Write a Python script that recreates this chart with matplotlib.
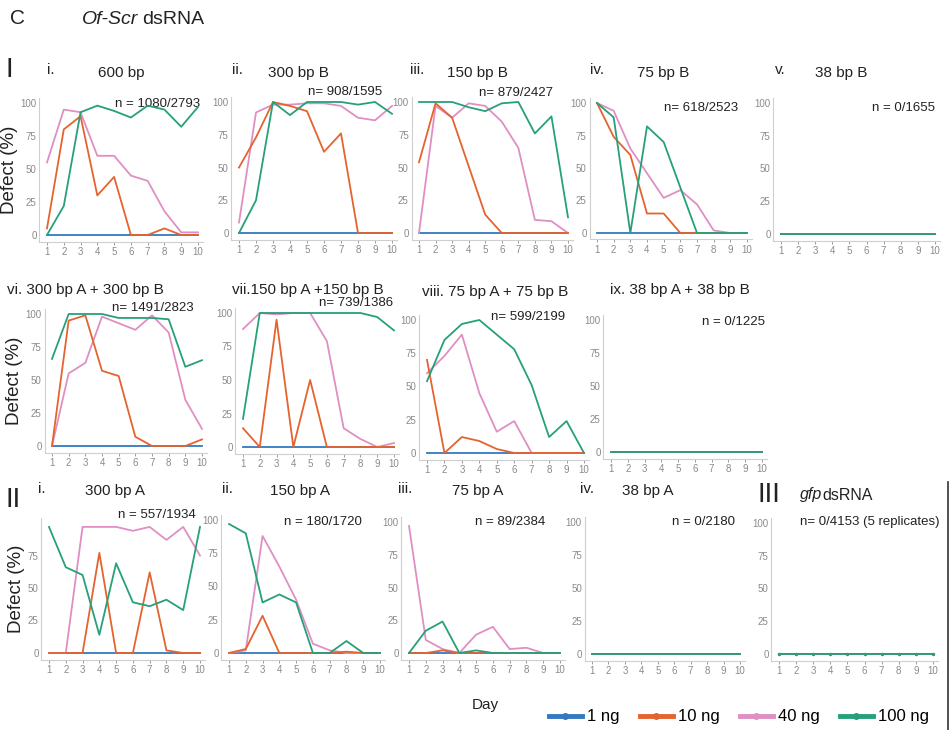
import matplotlib.pyplot as plt
from matplotlib.lines import Line2D

plt.rcParams['font.family'] = ['Liberation Sans', 'DejaVu Sans']

# ---- data (defect % per day) ----
days = [1, 2, 3, 4, 5, 6, 7, 8, 9, 10]
doses = ['1 ng', '10 ng', '40 ng', '100 ng']
colors = ['#3378c0', '#e5632e', '#e08fc3', '#26a07a']
zero = [0, 0, 0, 0, 0, 0, 0, 0, 0, 0]

# I. Of-Scr dsRNA, fragment B series
bp600_10 = [5, 80, 90, 30, 44, 0, 0, 5, 0, 0]
bp600_40 = [55, 95, 93, 60, 60, 45, 41, 18, 2, 2]
bp600_100 = [0, 22, 93, 98, 94, 89, 98, 95, 82, 97]

bp300b_10 = [50, 73, 100, 97, 93, 62, 76, 0, 0, 0]
bp300b_40 = [8, 92, 98, 98, 99, 99, 97, 88, 86, 97]
bp300b_100 = [0, 25, 100, 90, 100, 100, 100, 98, 100, 91]

bp150b_10 = [54, 99, 88, 51, 14, 0, 0, 0, 0, 0]
bp150b_40 = [0, 97, 88, 99, 97, 85, 65, 10, 9, 0]
bp150b_100 = [100, 100, 100, 96, 93, 99, 100, 76, 89, 12]

bp75b_10 = [100, 74, 60, 15, 15, 0, 0, 0, 0, 0]
bp75b_40 = [100, 94, 65, 46, 27, 33, 22, 2, 0, 0]
bp75b_100 = [100, 89, 0, 82, 70, 35, 0, 0, 0, 0]

# A + B combinations
ab300_10 = [0, 95, 99, 57, 53, 7, 0, 0, 0, 5]
ab300_40 = [0, 55, 63, 98, 93, 88, 99, 86, 35, 13]
ab300_100 = [66, 100, 100, 100, 97, 97, 97, 96, 60, 65]

ab150_10 = [14, 0, 95, 0, 50, 0, 0, 0, 0, 0]
ab150_40 = [88, 100, 99, 100, 100, 79, 14, 6, 0, 3]
ab150_100 = [21, 100, 100, 100, 100, 100, 100, 100, 97, 87]

ab75_10 = [70, 0, 12, 9, 3, 0, 0, 0, 0, 0]
ab75_40 = [60, 73, 89, 45, 16, 24, 0, 0, 0, 0]
ab75_100 = [54, 85, 97, 100, 89, 78, 51, 12, 24, 0]

# II. fragment A series
bp300a_10 = [0, 0, 0, 77, 0, 0, 62, 2, 0, 0]
bp300a_40 = [0, 0, 97, 97, 97, 94, 97, 87, 97, 75]
bp300a_100 = [97, 66, 60, 14, 69, 39, 36, 41, 33, 97]

bp150a_10 = [0, 3, 28, 0, 0, 0, 0, 1, 0, 0]
bp150a_40 = [0, 2, 88, 65, 40, 7, 2, 0, 0, 0]
bp150a_100 = [97, 90, 38, 44, 38, 0, 0, 9, 0, 0]

bp75a_10 = [0, 0, 2, 0, 0, 0, 0, 0, 0, 0]
bp75a_40 = [97, 10, 3, 0, 14, 20, 3, 4, 0, 0]
bp75a_100 = [0, 17, 24, 0, 2, 0, 0, 0, 0, 0]

W, H = 951, 730
fig = plt.figure(figsize=(W / 100, H / 100), dpi=100)


def px_rect(d1, d10, y100, y0):
    """axes rect from pixel position of day 1, day 10, y=100 and y=0"""
    s = (d10 - d1) / 9.0
    h = (y0 - y100) / 100.0
    left = d1 - 0.45 * s
    right = d10 + 0.3 * s
    top = y100 - 4 * h
    bottom = y0 + 5 * h
    return [left / W, 1 - bottom / H, (right - left) / W, (bottom - top) / H]


def ftext(x, y, s, **kw):
    kw.setdefault('va', 'center')
    fig.text(x / W, 1 - y / H, s, **kw)


def panel(pos, series, nlabel, npos, ylabel=False, yticks=(0, 25, 50, 75, 100), marks=False):
    ax = fig.add_axes(px_rect(*pos))
    order = [0, 2, 1, 3]  # blue under pink under orange under green
    for z, k in enumerate(order):
        ax.plot(days, series[k], color=colors[k], lw=1.3, zorder=2 + z,
                marker='.' if (marks and k == 3) else None, ms=3)
    ax.set_xlim(0.55, 10.3)
    ax.set_ylim(-5, 104)
    ax.set_xticks(days)
    ax.set_yticks(list(yticks))
    for side in ['top', 'right']:
        ax.spines[side].set_visible(False)
    for side in ['left', 'bottom']:
        ax.spines[side].set_color('#cfcfcf')
        ax.spines[side].set_linewidth(0.8)
    ax.tick_params(labelsize=7, colors='#8a8a8a', length=2, width=0.6, pad=2)
    ax.tick_params(axis='y', length=0)
    if ylabel:
        ax.set_ylabel('Defect (%)', fontsize=13.5, color='#222222', labelpad=2)
    ax.text(npos[0] / W, 1 - npos[1] / H, nlabel, transform=fig.transFigure,
            ha='right', va='center', fontsize=9.5, color='#222222')
    return ax


# row I
panel((47, 198, 103, 235), [zero, bp600_10, bp600_40, bp600_100], 'n = 1080/2793', (200, 104), ylabel=True)
panel((239, 392, 102, 233), [zero, bp300b_10, bp300b_40, bp300b_100], 'n= 908/1595', (382, 92))
panel((419, 568, 102, 233), [zero, bp150b_10, bp150b_40, bp150b_100], 'n= 879/2427', (553, 93))
panel((597, 747, 103, 233), [zero, bp75b_10, bp75b_40, bp75b_100], 'n= 618/2523', (738, 108))
panel((781, 935, 103, 234), [zero, zero, zero, zero], 'n = 0/1655', (935, 108))

# row I, combinations
panel((52, 202, 314, 446), [zero, ab300_10, ab300_40, ab300_100], 'n= 1491/2823', (194, 308), ylabel=True)
panel((243, 394, 313, 447), [zero, ab150_10, ab150_40, ab150_100], 'n= 739/1386', (393, 303))
panel((427, 584, 320, 453), [zero, ab75_10, ab75_40, ab75_100], 'n= 599/2199', (565, 317))
panel((611, 762, 320, 452), [zero, zero, zero, zero], 'n = 0/1225', (765, 322))

# row II and III
panel((49, 200, 523, 653), [zero, bp300a_10, bp300a_40, bp300a_100], 'n = 557/1934', (196, 515),
      ylabel=True, yticks=(0, 25, 50, 75))
panel((229, 380, 520, 653), [zero, bp150a_10, bp150a_40, bp150a_100], 'n = 180/1720', (362, 522))
panel((409, 560, 522, 653), [zero, bp75a_10, bp75a_40, bp75a_100], 'n = 89/2384', (545, 522))
panel((592, 740, 522, 654), [zero, zero, zero, zero], 'n = 0/2180', (735, 522))
panel((779, 933, 523, 654), [zero, zero, zero, zero], 'n= 0/4153 (5 replicates)', (940, 522), marks=True)

# headings
ftext(10, 18, 'C', fontsize=15, color='#222222')
ftext(82, 20, 'Of-Scr', fontsize=14, style='italic', color='#222222')
ftext(142, 20, 'dsRNA', fontsize=14, color='#222222')
ftext(5, 70, 'I', fontsize=20, color='#222222')
ftext(5, 500, 'II', fontsize=20, color='#222222')
ftext(757, 495, 'III', fontsize=20, color='#222222')
ftext(800, 495, 'gfp', fontsize=11.5, style='italic', color='#222222')
ftext(822, 495, 'dsRNA', fontsize=11.5, color='#222222')

titles = [
    (47, 70, 'i.'), (98, 73, '600 bp'),
    (232, 70, 'ii.'), (268, 73, '300 bp B'),
    (410, 70, 'iii.'), (447, 73, '150 bp B'),
    (590, 70, 'iv.'), (637, 73, '75 bp B'),
    (775, 70, 'v.'), (815, 73, '38 bp B'),
    (7, 290, 'vi. 300 bp A + 300 bp B'),
    (232, 290, 'vii.150 bp A +150 bp B'),
    (422, 292, 'viii. 75 bp A + 75 bp B'),
    (610, 290, 'ix. 38 bp A + 38 bp B'),
    (38, 489, 'i.'), (85, 491, '300 bp A'),
    (222, 489, 'ii.'), (270, 491, '150 bp A'),
    (398, 489, 'iii.'), (452, 491, '75 bp A'),
    (580, 489, 'iv.'), (622, 491, '38 bp A'),
]
for x, y, s in titles:
    ftext(x, y, s, fontsize=11, color='#222222')

ftext(485, 705, 'Day', fontsize=11, ha='center', color='#222222')

handles = [Line2D([], [], color=c, lw=3.5, marker='o', ms=4) for c in colors]
fig.legend(handles, doses, loc='center', bbox_to_anchor=(739 / W, 1 - 717 / H), ncol=4,
           frameon=False, fontsize=12, handlelength=2.0, handletextpad=0.3, columnspacing=1.2)

fig.add_artist(Line2D([948 / W, 948 / W], [0, 1 - 482 / H], color='#333333', lw=1.2))

fig.savefig('out.png', dpi=100)
